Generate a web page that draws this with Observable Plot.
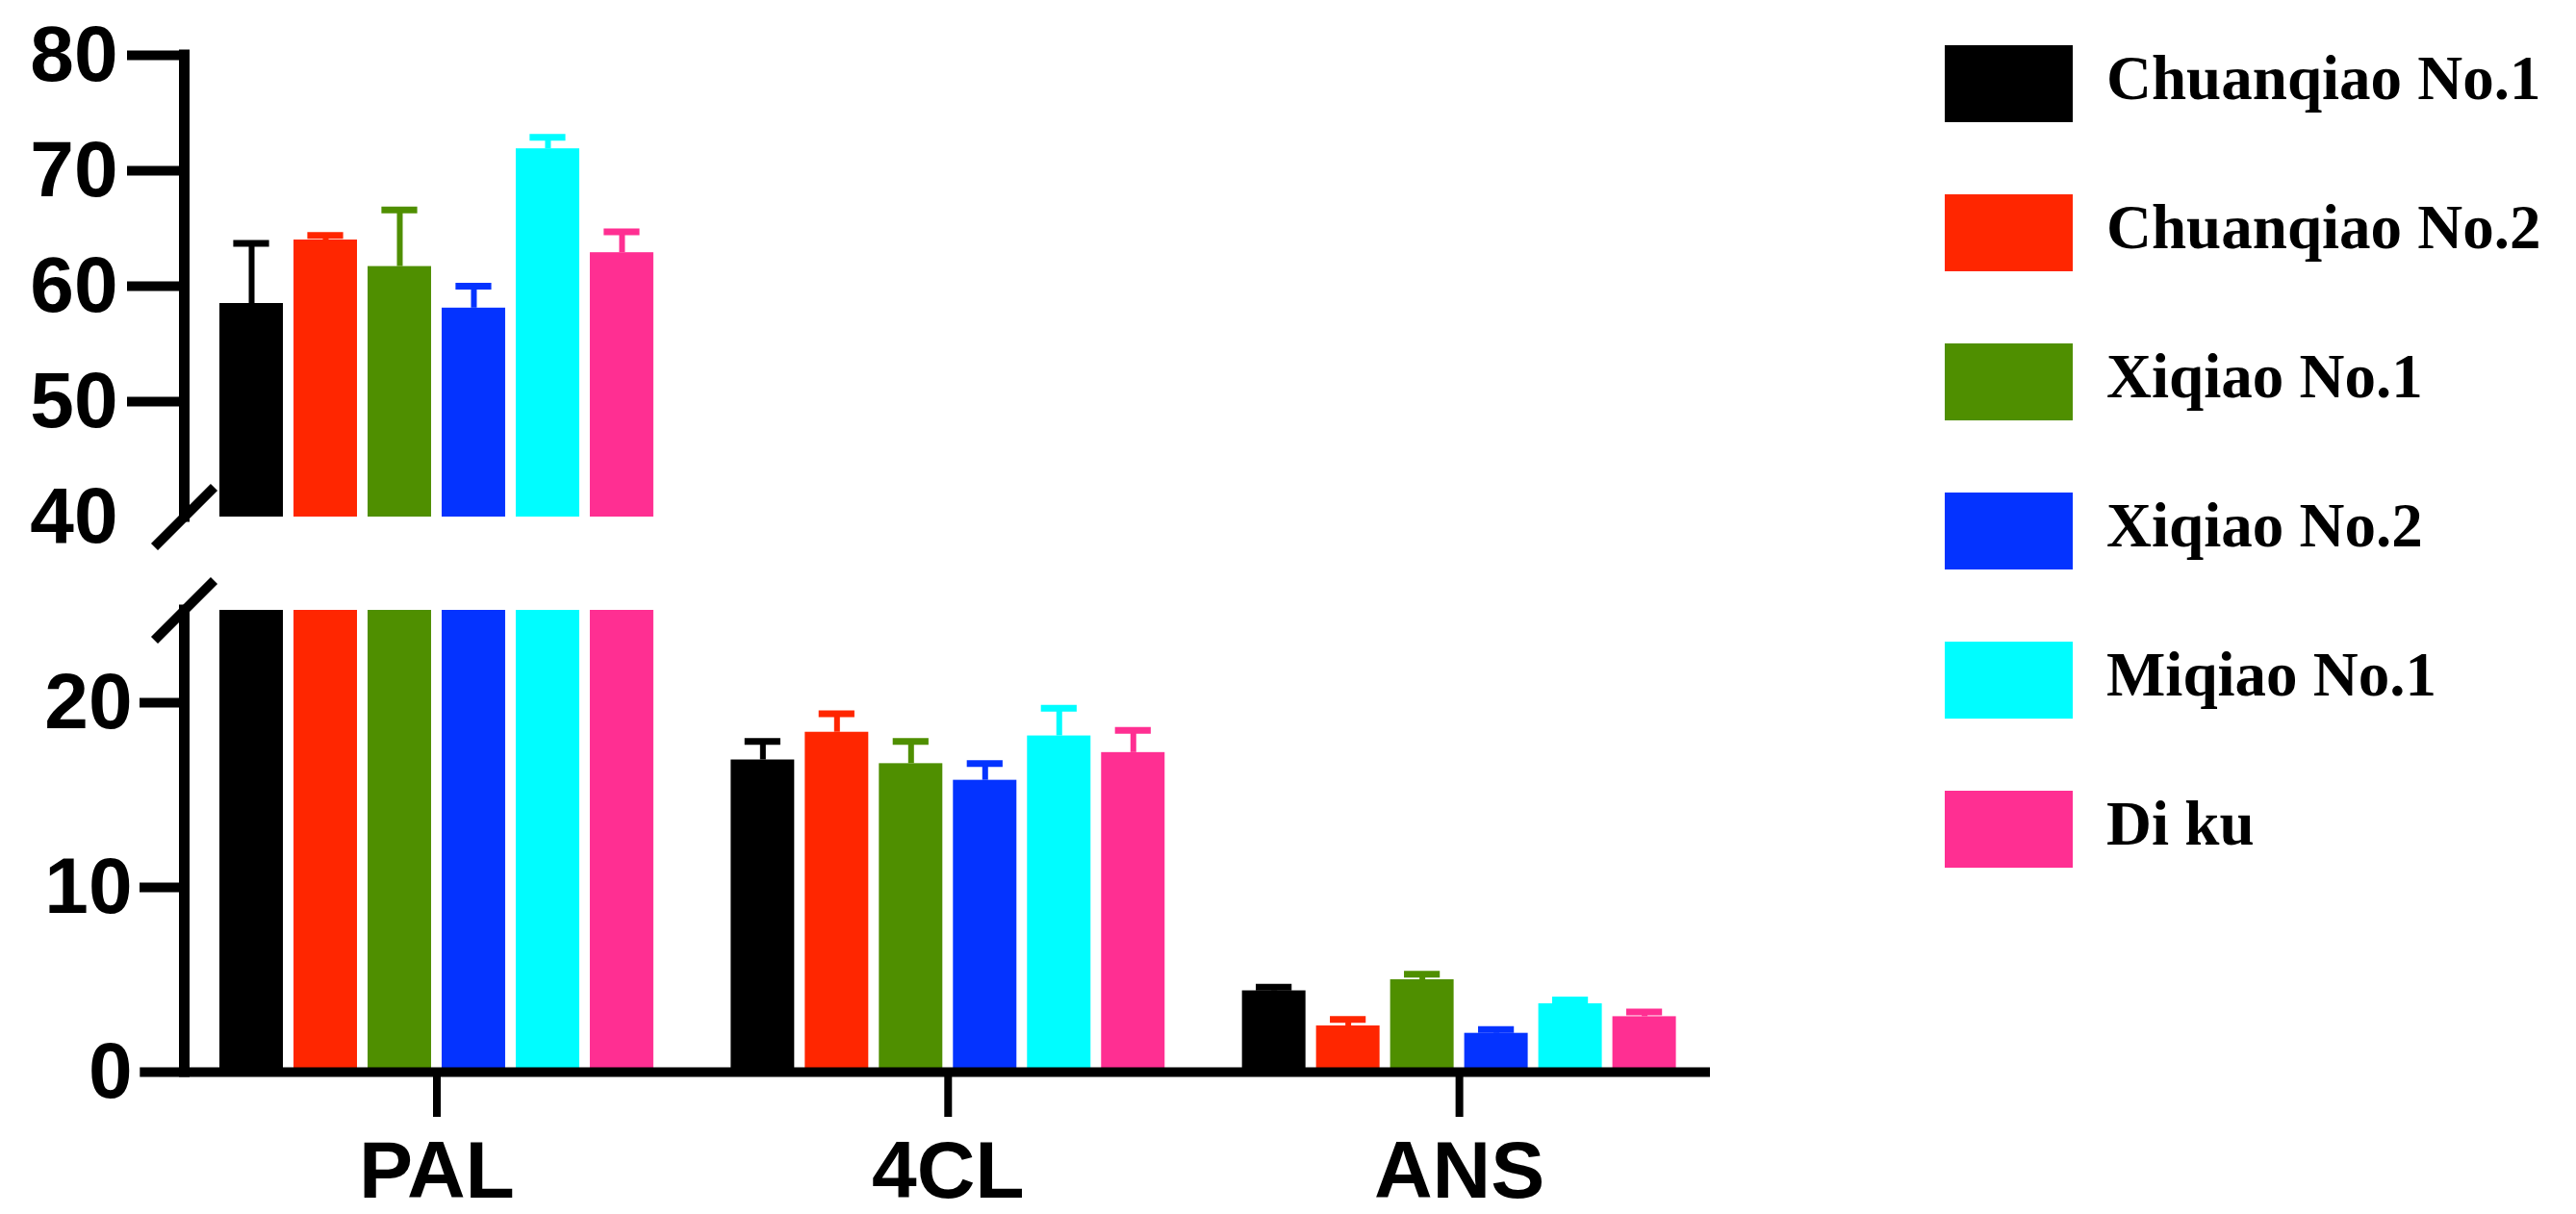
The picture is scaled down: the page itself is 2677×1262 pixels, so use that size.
<!DOCTYPE html>
<html><head><meta charset="utf-8">
<script src="https://cdn.jsdelivr.net/npm/d3@7"></script>
<script src="https://cdn.jsdelivr.net/npm/@observablehq/plot@0.6"></script>
<style>
html,body{margin:0;padding:0;background:#fff;}
#wrap{position:relative;width:2677px;height:1262px;overflow:hidden;background:#fff;}
#chart{position:absolute;left:0;top:0;}
#legend{position:absolute;left:2021px;top:47px;}
.row{position:absolute;left:0;height:80px;display:flex;align-items:center;white-space:nowrap;}
.sw{width:133px;height:80px;flex:none;}
.lab{margin-left:35px;font-family:"Liberation Serif","Times New Roman",serif;font-weight:bold;font-size:65px;position:relative;top:-6px;color:#000;}
</style></head><body>
<div id="wrap"><div id="chart"></div><div id="legend"></div></div>
<script>
// ---- data ----
const genes = ["PAL", "4CL", "ANS"];
const varieties = ["Chuanqiao No.1", "Chuanqiao No.2", "Xiqiao No.1", "Xiqiao No.2", "Miqiao No.1", "Di ku"];
const colors = ["#000000", "#FF2600", "#4F8F00", "#0433FF", "#00FDFF", "#FF2F92"];
const palMean = [58.5, 64.0, 61.7, 58.1, 71.9, 62.9];
const palErr  = [5.2, 0.4, 4.9, 1.9, 1.0, 1.8];
const cl4Mean = [16.9, 18.4, 16.7, 15.8, 18.2, 17.3];
const cl4Err  = [1.0, 1.0, 1.2, 0.9, 1.5, 1.2];
const ansMean = [4.4, 2.5, 5.0, 2.1, 3.7, 3.0];
const ansErr  = [0.2, 0.35, 0.3, 0.2, 0.2, 0.25];
const yTicksUpper = [50, 60, 70, 80];
const yTicksLower = [10, 20];
const breakLow = 25, breakHigh = 40, yMax = 80;

// ---- layout ----
const W = 1800, H = 1262;
const mL = 191, mR = 23, mT = 57, mB = 148;
const pxLower = 19.2, pxUpper = 12;          // px per unit on each segment
const xMin = -0.494, xMax = 2.491, xBaseStart = -0.58;
const step = 0.1449, bw = 0.1242, capW = 0.07;

const means = [palMean, cl4Mean, ansMean];
const errs = [palErr, cl4Err, ansErr];
const rows = [];
genes.forEach((g, gi) => varieties.forEach((v, vi) => {
  rows.push({gene: g, gi, variety: v, vi, mean: means[gi][vi], err: errs[gi][vi]});
}));
const xc = d => d.gi + (d.vi - 2.5) * step;

const bottom = H - mB;
const yRange = [bottom, bottom - breakLow * pxLower, mT + (yMax - breakHigh) * pxUpper, mT];

const slash = {draw(ctx, size) { const r = Math.sqrt(size / Math.PI); ctx.moveTo(-r, r); ctx.lineTo(r, -r); }};
const font = {fontSize: 82, fontWeight: "bold", label: null};

const chart = Plot.plot({
  width: W, height: H,
  marginLeft: mL, marginRight: mR, marginTop: mT, marginBottom: mB,
  style: {background: "white", color: "black", fontFamily: "'Liberation Sans', Arial, sans-serif"},
  x: {type: "linear", domain: [xMin, xMax], label: null},
  y: {type: "linear", domain: [0, breakLow, breakHigh, yMax], range: yRange, label: null},
  color: {domain: varieties, range: colors},
  marks: [
    Plot.rect(rows, {x1: d => xc(d) - bw / 2, x2: d => xc(d) + bw / 2, y1: 0, y2: d => Math.min(d.mean, breakLow), fill: "variety"}),
    Plot.rect(rows.filter(d => d.mean > breakHigh), {x1: d => xc(d) - bw / 2, x2: d => xc(d) + bw / 2, y1: breakHigh, y2: "mean", fill: "variety"}),
    Plot.ruleX(rows, {x: xc, y1: "mean", y2: d => d.mean + d.err, stroke: "variety", strokeWidth: 6}),
    Plot.ruleY(rows, {y: d => d.mean + d.err, x1: d => xc(d) - capW / 2, x2: d => xc(d) + capW / 2, stroke: "variety", strokeWidth: 7}),
    // broken y axis line
    Plot.ruleX([[0, breakLow], [breakHigh, yMax]], {x: () => xMin, y1: d => d[0], y2: d => d[1], stroke: "black", strokeWidth: 11, strokeLinecap: "square"}),
    Plot.dot([breakLow, breakHigh], {x: () => xMin, y: d => d, symbol: slash, r: 31, fill: "none", stroke: "black", strokeWidth: 10}),
    // baseline
    Plot.ruleY([0], {x1: xBaseStart, x2: xMax, stroke: "black", strokeWidth: 10}),
    // axes
    Plot.axisY(yTicksUpper, {tickSize: 59, tickPadding: 10, strokeWidth: 10, ...font}),
    Plot.axisY([breakHigh], {tickSize: 0, tickPadding: 69, ...font}),
    Plot.axisY(yTicksLower, {tickSize: 46, tickPadding: 8, strokeWidth: 10, ...font}),
    Plot.axisY([0], {tickSize: 0, tickPadding: 54, ...font}),
    Plot.axisX([0, 1, 2], {tickFormat: i => genes[i], tickSize: 47, tickPadding: 24, strokeWidth: 8, fontSize: 84, fontWeight: "bold", label: null})
  ]
});
document.getElementById("chart").appendChild(chart);

// ---- legend ----
const leg = document.getElementById("legend");
varieties.forEach((v, i) => {
  const row = document.createElement("div");
  row.className = "row";
  row.style.top = (i * 155) + "px";
  const sw = document.createElement("div");
  sw.className = "sw";
  sw.style.background = colors[i];
  const lab = document.createElement("span");
  lab.className = "lab";
  lab.textContent = v;
  row.appendChild(sw); row.appendChild(lab);
  leg.appendChild(row);
});
</script>
</body></html>
